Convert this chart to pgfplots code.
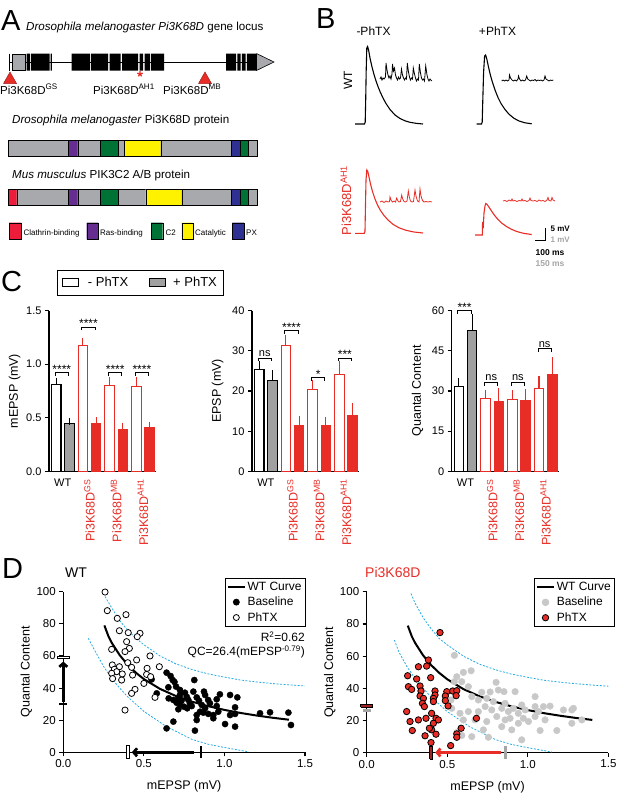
\documentclass[border=0pt]{standalone}
\usepackage{pgfplots}
\pgfplotsset{compat=1.18}
\usetikzlibrary{arrows.meta}
\usepackage{fontspec}
\setmainfont{Liberation Sans}

\definecolor{myred}{RGB}{232,45,38}
\definecolor{darkred}{RGB}{160,35,35}
\definecolor{geneGray}{RGB}{167,169,172}
\definecolor{barGray}{RGB}{160,160,160}
\definecolor{dotGray}{RGB}{200,200,200}
\definecolor{markGray}{RGB}{165,165,165}
\definecolor{bandBlue}{RGB}{41,171,226}
\definecolor{clath}{RGB}{237,28,58}
\definecolor{rasP}{RGB}{102,45,145}
\definecolor{ctwoG}{RGB}{0,114,54}
\definecolor{catY}{RGB}{255,242,0}
\definecolor{pxB}{RGB}{46,49,146}

\newcommand{\fs}[1]{\fontsize{#1}{#1}\selectfont}
% filled box in the overlay axis: style, x1, y1, x2, y2
\newcommand{\rbox}[5]{\addplot[#1] coordinates {(#2,#3) (#4,#3) (#4,#5) (#2,#5) (#2,#3)};}
\newcommand{\mut}[1]{\rotatebox{90}{\fs{12.5}\textcolor{myred}{Pi3K68D\textsuperscript{#1}}}}

\pgfplotsset{
  /pgf/number format/assume math mode=true,
  barax/.style={
    scale only axis, width=107pt, height=161pt,
    xmin=0, xmax=107, ymin=0, anchor=south west, clip=false,
    axis lines*=left, axis line style={line width=1.1pt},
    tick align=outside, major tick length=4pt,
    ytick style={line width=1.1pt, black}, xtick style={draw=none},
    xtick={13.8,40.5,67.2,93.9},
    xticklabels={WT, {\mut{GS}}, {\mut{MB}}, {\mut{AH1}}},
    every tick label/.append style={font=\fs{11}},
    every axis y label/.style={at={(axis description cs:-0.32,0.5)}, anchor=center, rotate=90, font=\fs{12.5}},
  },
  bars/.style={ybar, bar width=9.5pt, bar shift=0pt, line width=1.1pt, draw=#1,
    /pgfplots/error bars/y dir=plus, /pgfplots/error bars/y explicit,
    /pgfplots/error bars/error bar style={line width=1.1pt, #1},
    /pgfplots/error bars/error mark options={mark size=3.3pt, line width=1.1pt, #1}},
  brk/.style={black, line width=0.9pt, forget plot},
  scatax/.style={
    scale only axis, width=241.7pt, height=160.6pt,
    xmin=0, xmax=1.5, ymin=0, ymax=100, anchor=south west, clip=false,
    axis lines*=left, axis line style={line width=1.1pt},
    tick align=outside, major tick length=4pt, tick style={line width=1.1pt, black},
    xtick={0,0.5,1,1.5}, ytick={0,20,40,60,80,100},
    xticklabel style={/pgf/number format/.cd, fixed, fixed zerofill, precision=1},
    every tick label/.append style={font=\fs{11.5}},
    xlabel={mEPSP (mV)}, ylabel={Quantal Content},
    every axis x label/.style={at={(axis description cs:0.5,-0.214)}, anchor=center, font=\fs{12.5}},
    every axis y label/.style={at={(axis description cs:-0.153,0.5)}, anchor=center, rotate=90, font=\fs{12.5}},
    legend style={draw=black, line width=0.8pt, font=\fs{12}, anchor=north east,
      inner xsep=2pt, inner ysep=1.5pt, row sep=1.2pt, cells={anchor=west}},
  },
  band/.style={bandBlue, line width=0.8pt, dash pattern=on 2pt off 1.5pt, forget plot},
  curve/.style={black, line width=2pt, forget plot},
}

\begin{document}
\begin{tikzpicture}[x=1pt,y=1pt]
\path[use as bounding box] (0pt,-795pt) rectangle (617pt,0pt);

% ---------- panels A and B, drawn in pixel coordinates
\begin{axis}[at={(0pt,0pt)}, anchor=north west, scale only axis,
  width=617pt, height=795pt, xmin=0, xmax=617, ymin=0, ymax=795,
  y dir=reverse, hide axis, clip=false]

% gene locus
\addplot[black, line width=0.8pt] coordinates {(9.3,62) (257,62)};
\addplot[black, line width=0.8pt] coordinates {(9.3,53.5) (9.3,70.5)};
\rbox{fill=geneGray, draw=black, line width=0.6pt}{12.7}{54}{25}{70}
\rbox{fill=black, draw=none}{26.7}{53.5}{30}{70.5}
\rbox{fill=black, draw=none}{31}{53.5}{49.5}{70.5}
\rbox{fill=black, draw=none}{50.5}{53.5}{51.8}{70.5}
\rbox{fill=black, draw=none}{71.7}{53.5}{90}{70.5}
\rbox{fill=black, draw=none}{91}{53.5}{108}{70.5}
\rbox{fill=black, draw=none}{109.5}{53.5}{120.5}{70.5}
\rbox{fill=black, draw=none}{122}{53.5}{138}{70.5}
\rbox{fill=black, draw=none}{139.5}{53.5}{143}{70.5}
\rbox{fill=black, draw=none}{144.5}{53.5}{150}{70.5}
\rbox{fill=black, draw=none}{151}{53.5}{164}{70.5}
\rbox{fill=black, draw=none}{226}{53.5}{236}{70.5}
\rbox{fill=black, draw=none}{237.3}{53.5}{240.5}{70.5}
\rbox{fill=black, draw=none}{241.8}{53.5}{245.5}{70.5}
\rbox{fill=black, draw=none}{246.8}{53.5}{256}{70.5}
\addplot[fill=geneGray, draw=black, line width=0.6pt] coordinates {(256.5,53.5) (274,62) (256.5,70.5) (256.5,53.5)};
\addplot[fill=myred, draw=darkred, line width=0.5pt] coordinates {(3.5,83.5) (10,72) (16.5,83.5) (3.5,83.5)};
\addplot[fill=myred, draw=darkred, line width=0.5pt] coordinates {(198.5,83.5) (205,72) (211.5,83.5) (198.5,83.5)};
\addplot[only marks, mark=star, mark size=2.8pt, myred, line width=1.3pt] coordinates {(140,74)};

% protein domains
\rbox{fill=geneGray, draw=black, line width=0.6pt}{8.3}{140}{257.3}{156}
\rbox{fill=rasP, draw=black, line width=0.4pt}{68.3}{140}{77.7}{156}
\rbox{fill=ctwoG, draw=black, line width=0.4pt}{100}{140}{118.3}{156}
\rbox{fill=catY, draw=black, line width=0.4pt}{124.3}{140}{160.7}{156}
\rbox{fill=pxB, draw=black, line width=0.4pt}{231}{140}{240}{156}
\rbox{fill=ctwoG, draw=black, line width=0.4pt}{240}{140}{248.3}{156}
\rbox{fill=geneGray, draw=black, line width=0.6pt}{8.3}{189}{257.3}{205}
\rbox{fill=clath, draw=black, line width=0.4pt}{8.3}{189}{16.7}{205}
\rbox{fill=rasP, draw=black, line width=0.4pt}{68.3}{189}{77.7}{205}
\rbox{fill=ctwoG, draw=black, line width=0.4pt}{100}{189}{118.3}{205}
\rbox{fill=catY, draw=black, line width=0.4pt}{145.7}{189}{181.7}{205}
\rbox{fill=pxB, draw=black, line width=0.4pt}{231}{189}{240}{205}
\rbox{fill=ctwoG, draw=black, line width=0.4pt}{240}{189}{248.3}{205}
% domain key
\rbox{fill=clath, draw=black, line width=0.4pt}{9}{222.7}{21}{239.3}
\rbox{fill=rasP, draw=black, line width=0.4pt}{86.7}{222.7}{98.3}{239.3}
\rbox{fill=ctwoG, draw=black, line width=0.4pt}{151}{222.7}{162.7}{239.3}
\rbox{fill=catY, draw=black, line width=0.4pt}{181.7}{222.7}{193.3}{239.3}
\rbox{fill=pxB, draw=black, line width=0.4pt}{232.3}{222.7}{244}{239.3}

\node[anchor=base west, font=\fs{29}, inner sep=0pt] at (axis cs:1,30) {A};
\node[anchor=base west, font=\fs{11.6}, inner sep=0pt] at (axis cs:26,30.5) {\textit{Drosophila melanogaster Pi3K68D} gene locus};
\node[anchor=base west, font=\fs{11.5}, inner sep=0pt] at (axis cs:0,94) {Pi3K68D\textsuperscript{GS}};
\node[anchor=base west, font=\fs{11.5}, inner sep=0pt] at (axis cs:93,94) {Pi3K68D\textsuperscript{AH1}};
\node[anchor=base west, font=\fs{11.5}, inner sep=0pt] at (axis cs:163,94) {Pi3K68D\textsuperscript{MB}};
\node[anchor=base west, font=\fs{11.6}, inner sep=0pt] at (axis cs:12,123) {\textit{Drosophila melanogaster} Pi3K68D protein};
\node[anchor=base west, font=\fs{11.6}, inner sep=0pt] at (axis cs:12,178) {\textit{Mus musculus} PIK3C2 A/B protein};
\node[anchor=base west, font=\fs{8}, inner sep=0pt] at (axis cs:23.3,235) {Clathrin-binding};
\node[anchor=base west, font=\fs{8}, inner sep=0pt] at (axis cs:100,235) {Ras-binding};
\node[anchor=base west, font=\fs{8}, inner sep=0pt] at (axis cs:165.5,235) {C2};
\node[anchor=base west, font=\fs{8}, inner sep=0pt] at (axis cs:195,235) {Catalytic};
\node[anchor=base west, font=\fs{8}, inner sep=0pt] at (axis cs:246,235) {PX};

% panel B traces
\addplot[black, line width=1.1pt] coordinates {
(355,124) (364.5,124) (365.2,122) (365.7,100) (366.2,70) (366.8,48) (367.6,46.5)
(368.6,50) (370,58) (372,67) (374,74.5) (376,81) (378,86.5) (380,91.5) (383,98)
(386,103.5) (390,109.5) (395,115) (400,118.5) (405,120.8) (410,122.3) (416,123.3) (423,124)};
\addplot[black, line width=0.8pt] coordinates {
(380,79) (381,77) (382,80) (383,78) (384,79) (385.5,77) (386,63) (387,70) (388,75) (389,78)
(390,76) (391,79) (392,74) (392.5,64) (393.5,71) (394.5,68) (395.5,75) (396.5,78) (397.5,80)
(398.5,77) (399.5,79) (400.5,78) (401.5,69) (402.5,75) (403.5,78) (404.5,80) (405.5,78)
(406.5,79) (407.3,63) (408.5,72) (409.5,77) (410.5,80) (411.5,78) (412.5,79) (413.3,68)
(414.5,74) (415.5,78) (416.5,81) (417.5,79) (418.5,80) (419.3,64) (420.5,73) (421.5,78)
(422.5,80) (423.5,79) (424.5,81) (425.7,66) (427,75) (428,79) (429,81) (430,79) (431.7,81)};
\addplot[black, line width=1.1pt] coordinates {
(476.7,124) (481.5,124) (482.2,122) (482.8,100) (483.6,72) (484.6,56) (485.6,55) (486.8,59)
(488.5,67) (490.5,75.5) (492.5,82.5) (495,90) (498,97.5) (501,103.5) (505,109.5) (509,114.2)
(514,118.3) (519,121) (525,122.8) (531.7,123.8)};
\addplot[black, line width=0.8pt] coordinates {
(501.7,81) (503,80) (504.5,81) (506,80) (507.5,81) (509,80) (509.5,75) (510.5,78) (512,80)
(513.5,81) (515,80) (516.5,81) (518,79) (518.5,76) (519.5,79) (521,81) (522.5,80) (524,81)
(525.5,80) (526.7,76) (527.7,79) (529,80) (530.5,81) (532,80) (533.5,80.5) (535,79.5)
(536.5,81) (538,80) (539.5,80.5) (541,80) (542.5,81) (544,80) (545,76) (546,79) (547.5,80)
(549,81) (550.5,80) (552,80.5) (553.3,80)};
\addplot[myred, line width=1.1pt] coordinates {
(355,233.3) (364.3,233.3) (365,231) (365.5,205) (366,180) (366.8,170) (367.8,171.5) (369,177)
(370.5,184) (372.5,191.5) (375,199) (377.5,205) (380.5,210.5) (384,215.5) (388,220)
(393,224.3) (399,227.8) (406,230.3) (414,232) (423,233)};
\addplot[myred, line width=0.8pt] coordinates {
(380,202) (382,201) (384,202.5) (386,201) (388,202) (389.5,201.5) (390,197) (391,200)
(392.5,202) (394,201) (395.5,202) (396.7,198) (397.7,200.5) (399,202) (400.5,201.5)
(401.7,195) (402.7,199) (404,201.5) (405.5,202) (407,201) (408.3,191) (409.3,197)
(410.5,201) (412,202) (413.5,201.5) (415,190) (416,196) (417.5,201) (419,202) (420,189)
(421,196) (422.5,200.5) (424,202) (426,201.5) (428,202) (430,201.5) (431.7,202)};
\addplot[myred, line width=1.1pt] coordinates {
(475,235) (482.3,235) (482.6,222) (483.2,228) (484,213) (485,206) (485.8,203.5) (487,204.3)
(489,207.2) (491.5,211) (494.5,215.3) (498,219.5) (502,223.3) (506.5,226.5) (511.5,229.3)
(517,231.6) (524,233.4) (531.7,234.5)};
\addplot[myred, line width=0.8pt] coordinates {
(503,201) (505,200.5) (507,201.5) (509,200) (511,201) (512,199) (513,201) (515,200.5)
(517,201.5) (519,200.5) (521,201) (522,199) (523,201) (525,200.5) (527,201.5) (529,200.5)
(530,198) (531,200.5) (533,201) (535,200.5) (537,201.5) (539,200) (541,201) (543,200.5)
(545,201.5) (547,200) (548,197.5) (549,200.5) (551,201) (552,197.5) (553,200) (555,201)};
\addplot[black, line width=1.1pt] coordinates {(535,240.7) (545.7,240.7) (545.7,227.7)};

\node[anchor=base west, font=\fs{29}, inner sep=0pt] at (axis cs:316,28.3) {B};
\node[anchor=base, font=\fs{12}, inner sep=0pt] at (axis cs:373.5,35) {-PhTX};
\node[anchor=base, font=\fs{12}, inner sep=0pt] at (axis cs:497.5,35) {+PhTX};
\node[rotate=90, font=\fs{12}, inner sep=0pt] at (axis cs:348,80) {WT};
\node[rotate=90, font=\fs{13}, inner sep=0pt, text=myred] at (axis cs:346,200.5) {Pi3K68D\textsuperscript{AH1}};
\node[anchor=base west, font=\fs{8}\bfseries, inner sep=0pt] at (axis cs:550.5,231.5) {5 mV};
\node[anchor=base west, font=\fs{8}\bfseries, inner sep=0pt, text=markGray] at (axis cs:550.5,242) {1 mV};
\node[anchor=base, font=\fs{8.5}\bfseries, inner sep=0pt] at (axis cs:550,255) {100 ms};
\node[anchor=base, font=\fs{8.5}\bfseries, inner sep=0pt, text=markGray] at (axis cs:550,266.7) {150 ms};

% panel letters and titles for C and D
\node[anchor=base west, font=\fs{29}, inner sep=0pt] at (axis cs:1,291.5) {C};
\node[anchor=base west, font=\fs{29}, inner sep=0pt] at (axis cs:2,578) {D};
\node[anchor=base west, font=\fs{14}, inner sep=0pt] at (axis cs:65,577) {WT};
\node[anchor=base west, font=\fs{14}, inner sep=0pt, text=myred] at (axis cs:365,577) {Pi3K68D};
\end{axis}

% ---------- panel C: mEPSP
\begin{axis}[barax, at={(49pt,-471.5pt)}, ymax=1.5, ytick={0,0.5,1,1.5},
  yticklabel style={/pgf/number format/.cd, fixed, fixed zerofill, precision=1},
  ylabel={mEPSP (mV)},
  legend style={at={(axis description cs:0.072,1.252)}, anchor=north west, legend columns=2,
    draw=black, line width=0.8pt, font=\fs{13}, inner xsep=5pt, inner ysep=5pt,
    /tikz/every even column/.append style={column sep=19pt}}]
\addlegendimage{legend image code/.code={\draw[black, fill=white, line width=0.8pt] (0pt,-4pt) rectangle (16pt,4pt); \path (23pt,0pt);}}
\addlegendentry{- PhTX}
\addlegendimage{legend image code/.code={\draw[black, fill=barGray, line width=0.8pt] (0pt,-4pt) rectangle (16pt,4pt); \path (21pt,0pt);}}
\addlegendentry{+ PhTX}
\addplot[fill=white, bars=black, forget plot] coordinates {(7.2,0.81) +- (0,0.035)};
\addplot[fill=barGray, bars=black, forget plot] coordinates {(20.4,0.445) +- (0,0.022)};
\addplot[fill=white, bars=myred, forget plot] coordinates {(33.9,1.174) +- (0,0.043) (60.6,0.80) +- (0,0.048) (87.3,0.79) +- (0,0.058)};
\addplot[fill=myred, bars=myred, forget plot] coordinates {(47.1,0.447) +- (0,0.031) (73.8,0.39) +- (0,0.035) (100.5,0.413) +- (0,0.022)};
\addplot[brk] coordinates {(6.2,0.889) (6.2,0.92) (19.4,0.92) (19.4,0.889)};
\addplot[brk] coordinates {(32.9,1.314) (32.9,1.345) (46.1,1.345) (46.1,1.314)};
\addplot[brk] coordinates {(59.6,0.889) (59.6,0.92) (72.8,0.92) (72.8,0.889)};
\addplot[brk] coordinates {(86.3,0.889) (86.3,0.92) (99.5,0.92) (99.5,0.889)};
\node[anchor=base, font=\fs{12}, yshift=-0.8pt, inner sep=0pt] at (axis cs:12.8,0.92) {****};
\node[anchor=base, font=\fs{12}, yshift=-0.8pt, inner sep=0pt] at (axis cs:39.5,1.345) {****};
\node[anchor=base, font=\fs{12}, yshift=-0.8pt, inner sep=0pt] at (axis cs:66.2,0.92) {****};
\node[anchor=base, font=\fs{12}, yshift=-0.8pt, inner sep=0pt] at (axis cs:92.9,0.92) {****};
\end{axis}

% ---------- panel C: EPSP
\begin{axis}[barax, at={(252pt,-471.5pt)}, ymax=40, ytick={0,10,20,30,40}, ylabel={EPSP (mV)}]
\addplot[fill=white, bars=black] coordinates {(7.2,25.3) +- (0,1.4)};
\addplot[fill=barGray, bars=black] coordinates {(20.4,22.7) +- (0,1.7)};
\addplot[fill=white, bars=myred] coordinates {(33.9,31.2) +- (0,2.0) (60.6,20.3) +- (0,1.5) (87.3,24.0) +- (0,2.7)};
\addplot[fill=myred, bars=myred] coordinates {(47.1,11.3) +- (0,1.7) (73.8,11.3) +- (0,1.5) (100.5,13.9) +- (0,2.3)};
\addplot[brk] coordinates {(6.2,27.38) (6.2,28.2) (19.4,28.2) (19.4,27.38)};
\addplot[brk] coordinates {(32.9,34.18) (32.9,35) (46.1,35) (46.1,34.18)};
\addplot[brk] coordinates {(59.6,22.58) (59.6,23.4) (72.8,23.4) (72.8,22.58)};
\addplot[brk] coordinates {(86.3,27.38) (86.3,28.2) (99.5,28.2) (99.5,27.38)};
\node[anchor=base, font=\fs{11}, yshift=1.8pt, inner sep=0pt] at (axis cs:12.8,28.2) {ns};
\node[anchor=base, font=\fs{12}, yshift=-0.8pt, inner sep=0pt] at (axis cs:39.5,35) {****};
\node[anchor=base, font=\fs{12}, yshift=-0.8pt, inner sep=0pt] at (axis cs:66.2,23.4) {*};
\node[anchor=base, font=\fs{12}, yshift=-0.8pt, inner sep=0pt] at (axis cs:92.9,28.2) {***};
\end{axis}

% ---------- panel C: quantal content
\begin{axis}[barax, at={(451.7pt,-471.5pt)}, ymax=60, ytick={0,15,30,45,60}, ylabel={Quantal Content}]
\addplot[fill=white, bars=black] coordinates {(7.2,31.7) +- (0,2.0)};
\addplot[fill=barGray, bars=black] coordinates {(20.4,52.7) +- (0,4.6)};
\addplot[fill=white, bars=myred] coordinates {(33.9,27.1) +- (0,2.1) (60.6,27.0) +- (0,2.2) (87.3,31.1) +- (0,3.4)};
\addplot[fill=myred, bars=myred] coordinates {(47.1,26.1) +- (0,3.8) (73.8,26.6) +- (0,2.8) (100.5,36.0) +- (0,5.4)};
\addplot[brk] coordinates {(6.2,58.77) (6.2,60) (19.4,60) (19.4,58.77)};
\addplot[brk] coordinates {(32.9,31.97) (32.9,33.2) (46.1,33.2) (46.1,31.97)};
\addplot[brk] coordinates {(59.6,31.97) (59.6,33.2) (72.8,33.2) (72.8,31.97)};
\addplot[brk] coordinates {(86.3,44.47) (86.3,45.7) (99.5,45.7) (99.5,44.47)};
\node[anchor=base, font=\fs{12}, yshift=-0.8pt, inner sep=0pt] at (axis cs:12.8,60) {***};
\node[anchor=base, font=\fs{11}, yshift=1.8pt, inner sep=0pt] at (axis cs:39.5,33.2) {ns};
\node[anchor=base, font=\fs{11}, yshift=1.8pt, inner sep=0pt] at (axis cs:66.2,33.2) {ns};
\node[anchor=base, font=\fs{11}, yshift=1.8pt, inner sep=0pt] at (axis cs:92.9,45.7) {ns};
\end{axis}

% ---------- panel D: WT
\begin{axis}[scatax, at={(63.3pt,-752.3pt)},
  legend style={at={(axis description cs:1.004,1.085)}}]
\addlegendimage{black, line width=1.4pt}
\addlegendentry{WT Curve}
\addlegendimage{only marks, mark=*, mark size=3pt, black}
\addlegendentry{Baseline}
\addlegendimage{only marks, mark=*, mark size=3pt, draw=black, fill=white, line width=0.8pt}
\addlegendentry{PhTX}
\addplot[band] coordinates {(0.259,97) (0.3,90) (0.35,82) (0.4,76) (0.45,71) (0.5,67) (0.6,60)
  (0.7,55) (0.8,51.5) (0.9,48.8) (1.0,46.8) (1.1,45) (1.2,43.8) (1.3,42.8) (1.4,42) (1.5,41.3)};
\addplot[band] coordinates {(0.155,71) (0.2,62.5) (0.25,53.5) (0.3,46) (0.35,40) (0.4,34.5)
  (0.5,25.5) (0.64,16) (0.8,8) (0.9,5) (1.0,3) (1.15,0.3)};
\addplot[only marks, mark=*, mark size=3.1pt, black, forget plot] coordinates {
(0.641,49.6) (0.666,47.5) (0.679,45.0) (0.69,43.8) (0.813,45.0) (0.652,40.5) (0.70,40.9)
(0.724,38.8) (0.755,37.1) (0.807,37.8) (0.873,37.8) (0.88,35.7) (0.972,36.1) (1.035,35.7)
(1.08,34.2) (0.654,33.6) (0.683,32.6) (0.714,33.6) (0.734,32.2) (0.766,34.6) (0.776,32.6)
(0.828,34.2) (0.842,32.2) (0.899,32.6) (0.724,29.9) (0.749,28.4) (0.769,27.4) (0.797,28.8)
(0.703,30.9) (0.859,29.5) (0.88,27.4) (0.91,30.5) (0.952,28.8) (0.714,26.8) (0.849,25.3)
(0.869,24.7) (0.90,23.9) (0.931,23.2) (0.828,23.2) (1.066,28.0) (1.066,23.9) (1.035,23.2)
(1.221,24.3) (1.283,24.9) (1.397,24.7) (1.413,17.0) (1.004,17.6) (1.066,16.0) (0.828,20.1)
(0.683,19.1) (0.641,14.9) (0.817,13.5) (0.931,21.2) (0.962,25.3) (0.724,35.7) (0.786,30.3)
(0.952,33.0) (0.58,36.7) (0.548,45.4)};
\addplot[only marks, mark=*, mark size=3.1pt, draw=black, fill=white, line width=0.8pt, forget plot] coordinates {
(0.259,99.8) (0.273,88.2) (0.389,85.7) (0.335,83.4) (0.403,74.5) (0.348,75.7) (0.476,74.1)
(0.459,72.0) (0.393,68.9) (0.41,64.7) (0.30,64.1) (0.383,62.7) (0.538,60.0) (0.455,57.5)
(0.40,55.8) (0.304,54.4) (0.348,53.3) (0.424,52.9) (0.52,52.3) (0.596,53.3) (0.317,51.7)
(0.331,50.2) (0.30,49.2) (0.366,48.8) (0.43,48.1) (0.517,48.5) (0.306,45.9) (0.362,45.0)
(0.50,42.9) (0.445,39.2) (0.424,36.7) (0.569,34.2) (0.383,26.3) (0.542,47.1)};
\addplot[curve] coordinates {(0.255,79) (0.28,72.3) (0.3,68.3)
  (0.35,60.5) (0.4,54.4) (0.45,49.6) (0.5,45.6) (0.6,39.5) (0.7,35.0) (0.8,31.5) (0.9,28.7)
  (1.0,26.4) (1.1,24.5) (1.2,22.9) (1.3,21.5) (1.4,20.3)};
% means before and after PhTX on the axes
\addplot[black, line width=2.7pt, forget plot] coordinates {(-0.025,30) (0.025,30)};
\addplot[black, line width=2.7pt, -{Straight Barb[length=3.5pt,width=8pt]}, forget plot] coordinates {(0,31.5) (0,56.5)};
\addplot[draw=black, fill=white, line width=0.8pt, forget plot] coordinates {(-0.037,58.2) (0.037,58.2) (0.037,59.8) (-0.037,59.8) (-0.037,58.2)};
\addplot[black, line width=2.7pt, forget plot] coordinates {(0.855,-3.8) (0.855,3.8)};
\addplot[black, line width=2.7pt, -{Straight Barb[length=3.5pt,width=8pt]}, forget plot] coordinates {(0.81,0) (0.425,0)};
\addplot[draw=black, fill=white, line width=0.8pt, forget plot] coordinates {(0.393,-4) (0.413,-4) (0.413,4) (0.393,4) (0.393,-4)};
\node[anchor=base east, font=\fs{12}, inner sep=0pt] at (axis cs:1.5,68.9) {R\textsuperscript{2}=0.62};
\node[anchor=base east, font=\fs{12}, inner sep=0pt] at (axis cs:1.5,60) {QC=26.4(mEPSP\textsuperscript{-0.79})};
\end{axis}

% ---------- panel D: Pi3K68D
\begin{axis}[scatax, at={(366.7pt,-752.5pt)},
  legend style={at={(axis description cs:1.028,1.085)}}]
\addlegendimage{black, line width=1.4pt}
\addlegendentry{WT Curve}
\addlegendimage{only marks, mark=*, mark size=3.3pt, dotGray}
\addlegendentry{Baseline}
\addlegendimage{only marks, mark=*, mark size=3.2pt, draw=black, fill=myred, line width=0.8pt}
\addlegendentry{PhTX}
\addplot[band] coordinates {(0.275,99) (0.3,93) (0.35,84) (0.4,77) (0.45,71) (0.5,67) (0.6,60)
  (0.7,55) (0.8,51.5) (0.9,48.8) (1.0,46.8) (1.1,45) (1.2,43.8) (1.3,42.8) (1.4,42) (1.5,41.3)};
\addplot[band] coordinates {(0.172,70) (0.2,62.5) (0.25,53.5) (0.3,46) (0.35,40) (0.4,34.5)
  (0.5,25.5) (0.64,16) (0.8,8) (0.9,5) (1.0,3) (1.15,0.3)};
\addplot[only marks, mark=*, mark size=3.3pt, dotGray, forget plot] coordinates {
(0.544,60.5) (0.648,50.9) (0.60,49.9) (0.559,47.2) (0.544,44.1) (0.59,44.1) (0.631,41.0)
(0.803,43.7) (0.714,37.5) (0.766,37.7) (0.817,38.9) (0.852,37.9) (0.921,37.9) (1.045,34.8)
(0.652,34.8) (0.693,32.7) (0.745,33.7) (0.786,31.7) (0.859,30.6) (0.962,29.6) (0.735,28.6)
(0.776,26.5) (0.838,27.5) (0.879,25.5) (0.91,27.5) (0.941,24.4) (0.983,26.5) (1.066,25.5)
(1.097,28.6) (1.138,28.9) (1.221,26.5) (1.273,26.5) (1.283,27.5) (0.523,32.7) (0.528,27.5)
(0.579,24.4) (0.631,25.5) (0.60,20.3) (0.672,20.3) (0.745,19.3) (0.807,22.4) (0.859,20.3)
(0.89,21.3) (0.941,18.2) (0.972,21.3) (1.004,19.3) (1.045,22.4) (1.076,13.7) (1.18,13.7)
(1.273,18.2) (1.335,20.3) (0.724,14.1) (0.838,16.1) (0.90,14.1) (0.962,7.9) (0.755,9.5)
(0.652,9.9) (0.59,10.6) (0.559,12.4) (1.045,28.6) (0.693,25.5) (1.107,20.3)};
\addplot[curve] coordinates {(0.255,79) (0.28,72.3) (0.3,68.3)
  (0.35,60.5) (0.4,54.4) (0.45,49.6) (0.5,45.6) (0.6,39.5) (0.7,35.0) (0.8,31.5) (0.9,28.7)
  (1.0,26.4) (1.1,24.5) (1.2,22.9) (1.3,21.5) (1.4,20.3)};
\addplot[only marks, mark=*, mark size=3.2pt, draw=black, fill=myred, line width=0.8pt, forget plot] coordinates {
(0.455,74.7) (0.383,57.6) (0.372,53.8) (0.321,53.4) (0.254,47.8) (0.31,45.8) (0.397,46.6)
(0.259,41.0) (0.279,39.3) (0.331,41.4) (0.337,38.3) (0.424,38.3) (0.424,35.8) (0.497,37.9)
(0.534,38.3) (0.559,38.5) (0.331,35.2) (0.352,33.7) (0.414,33.7) (0.488,35.2) (0.555,35.4)
(0.346,30.6) (0.358,28.6) (0.488,32.3) (0.505,29.0) (0.414,31.7) (0.248,25.5) (0.269,19.3)
(0.283,13.7) (0.321,20.3) (0.368,21.3) (0.403,24.4) (0.43,21.3) (0.414,18.2) (0.403,14.1)
(0.362,10.4) (0.43,11.4) (0.399,6.2) (0.389,15.1) (0.559,11.6) (0.559,9.5) (0.586,15.1)
(0.521,4.3) (0.681,21.3) (0.445,20.3)};
\addplot[markGray, line width=2.7pt, forget plot] coordinates {(-0.025,26) (0.025,26)};
\addplot[draw=black, fill=darkred, line width=0.6pt, forget plot] coordinates {(-0.037,28.2) (0.037,28.2) (0.037,29.8) (-0.037,29.8) (-0.037,28.2)};
\addplot[markGray, line width=2.7pt, forget plot] coordinates {(0.86,-3.8) (0.86,3.8)};
\addplot[myred, line width=2.7pt, -{Straight Barb[length=3.5pt,width=8pt]}, forget plot] coordinates {(0.835,0) (0.425,0)};
\addplot[draw=black, fill=darkred, line width=0.6pt, forget plot] coordinates {(0.39,-4) (0.41,-4) (0.41,4) (0.39,4) (0.39,-4)};
\end{axis}
\end{tikzpicture}
\end{document}
